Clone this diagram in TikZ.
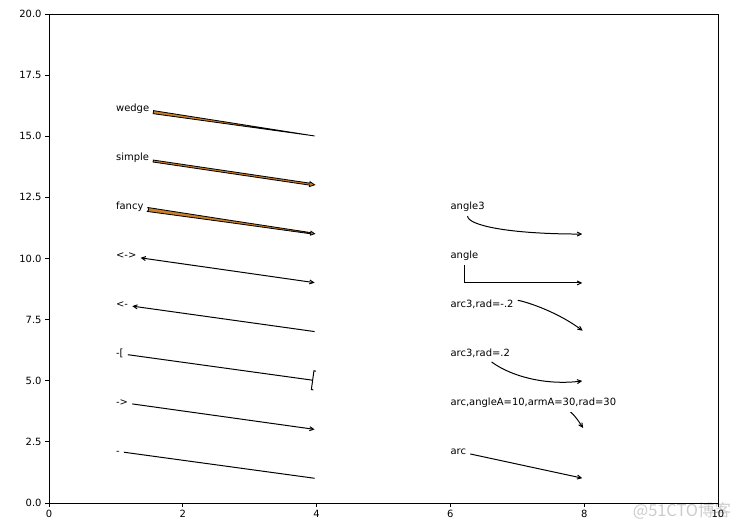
\documentclass[tikz,border=0pt]{standalone}
\usepackage{fontspec}
\setmainfont{DejaVu Sans}
\newfontfamily\cjkfont{Noto Sans CJK SC}
\usetikzlibrary{arrows.meta,calc,backgrounds}

\definecolor{arrowfill}{RGB}{204,128,40}
\definecolor{markgray}{RGB}{204,204,204}

\tikzset{
  lbl/.style={anchor=base west, xshift=-1.7pt, inner sep=1.7pt,
    text height=6.5pt, text depth=1.9pt, font=\fontsize{8.5}{10}\selectfont},
  conn/.style={line width=0.85pt, shorten <=1.7pt, shorten >=1.7pt},
  fat/.style={fill=arrowfill, draw=black, line width=0.7pt, line join=miter},
  tick/.style={line width=0.68pt},
  ticklbl/.style={font=\fontsize{8.5}{10}\selectfont, inner sep=0pt}
}

\begin{document}
\begin{tikzpicture}[x=2.007cm, y=0.7335cm, >={Straight Barb[length=3.4pt,width=3.4pt]}]
            \useasboundingbox (-0.7324,-1.063) rectangle (10.359,20.573);
            % Watermark
            \node[text=markgray, font=\cjkfont\fontsize{14}{14}\selectfont] (mark) at (9.46,-0.33) {@51CTO博客};
            % Axes
            \draw[tick] (0,0) rectangle (10,20);
            \foreach \x in {0,2,...,10}
              \draw[tick] (\x,0) -- ++(0,-3pt) node[ticklbl, anchor=north, yshift=-3pt] (xl\x) {\x};
            \foreach \y/\t [count=\i] in {0/0.0,2.5/2.5,5/5.0,7.5/7.5,10/10.0,12.5/12.5,15/15.0,17.5/17.5,20/20.0}
              \draw[tick] (0,\y) -- ++(-3pt,0) node[ticklbl, anchor=east, xshift=-3pt] (yl\i) {\t};
            % Arrow styles
            \node[lbl] (tdash) at (1,2) {-};
            \node[lbl] (tarrow) at (1,4) {->};
            \node[lbl] (tbracket) at (1,6) {-[};
            \node[lbl] (tleft) at (1,8) {<-};
            \node[lbl] (tboth) at (1,10) {<->};
            \node[lbl] (tfancy) at (1,12) {fancy};
            \node[lbl] (tsimple) at (1,14) {simple};
            \node[lbl] (twedge) at (1,16) {wedge};
            \coordinate (edash) at (4,1);
            \coordinate (earrow) at (4,3);
            \coordinate (ebracket) at (4,5);
            \coordinate (eleft) at (4,7);
            \coordinate (eboth) at (4,9);
            \coordinate (efancy) at (4,11);
            \coordinate (esimple) at (4,13);
            \coordinate (ewedge) at (4,15);
            \draw[conn] (tdash) -- (edash);
            \draw[conn,->] (tarrow) -- (earrow);
            \draw[conn,-{Bracket[reversed,width=17pt,length=1.7pt]}] (tbracket) -- (ebracket);
            \draw[conn,<-] (tleft) -- (eleft);
            \draw[conn,<->] (tboth) -- (eboth);
            % fancy
            \path (tfancy) -- (efancy) coordinate[pos=0] (f0) coordinate[pos=1] (f1);
            \coordinate (fs) at ($(f0)!1.7pt!(f1)$);
            \coordinate (fe) at ($(f1)!1.7pt!(f0)$);
            \coordinate (fh) at ($(fe)!3.4pt!(fs)$);
            \coordinate (fm) at ($(fs)!0.5!(fh)$);
            \filldraw[fat] ($(fs)!1pt!(fe)$) -- ($(fs)!1.7pt!90:(fe)$) -- ($(fm)!1pt!90:(fe)$)
              -- ($(fh)!0.5pt!90:(fe)$) -- ($(fh)!1.7pt!90:(fe)$) -- (fe)
              -- ($(fh)!1.7pt!-90:(fe)$) -- ($(fh)!0.5pt!-90:(fe)$)
              -- ($(fm)!1pt!-90:(fe)$) -- ($(fs)!1.7pt!-90:(fe)$) -- cycle;
            % simple
            \path (tsimple) -- (esimple) coordinate[pos=0] (s0) coordinate[pos=1] (s1);
            \coordinate (ss) at ($(s0)!1.7pt!(s1)$);
            \coordinate (se) at ($(s1)!1.7pt!(s0)$);
            \coordinate (sh) at ($(se)!4.25pt!(ss)$);
            \filldraw[fat] ($(ss)!0.85pt!90:(se)$) -- ($(sh)!0.85pt!90:(se)$) -- ($(sh)!2.1pt!90:(se)$)
              -- (se) -- ($(sh)!2.1pt!-90:(se)$) -- ($(sh)!0.85pt!-90:(se)$)
              -- ($(ss)!0.85pt!-90:(se)$) -- cycle;
            % wedge
            \path (twedge) -- (ewedge) coordinate[pos=0] (w0) coordinate[pos=1] (w1);
            \coordinate (ws) at ($(w0)!1.7pt!(w1)$);
            \coordinate (we) at ($(w1)!1.7pt!(w0)$);
            \filldraw[fat] ($(ws)!1.3pt!90:(we)$) -- (we) -- ($(ws)!1.3pt!-90:(we)$) -- cycle;
            % Connection styles
            \node[lbl] (angle3) at (6,12) {angle3};
            \node[lbl] (angle) at (6,10) {angle};
            \node[lbl] (arcneg) at (6,8) {arc3,rad=-.2};
            \node[lbl] (arcpos) at (6,6) {arc3,rad=.2};
            \node[lbl] (arcarm) at (6,4) {arc,angleA=10,armA=30,rad=30};
            \node[lbl] (arcplain) at (6,2) {arc};
            \coordinate (rangle3) at (8,11);
            \coordinate (rangle) at (8,9);
            \coordinate (rarcneg) at (8,7);
            \coordinate (rarcpos) at (8,5);
            \coordinate (rarcarm) at (8,3);
            \coordinate (rarcplain) at (8,1);
            % quadratic control points
            \coordinate (qangle3) at (angle3 |- rangle3);
            \coordinate (qarcneg) at ($(arcneg)!0.5!(rarcneg)!0.4!90:(rarcneg)$);
            \coordinate (qarcpos) at ($(arcpos)!0.5!(rarcpos)!0.4!-90:(rarcpos)$);
            \draw[conn,->] (angle3) .. controls ($(angle3)!2/3!(qangle3)$) and ($(rangle3)!2/3!(qangle3)$) .. (rangle3);
            \draw[conn,->] (angle) |- (rangle);
            \draw[conn,->] (arcneg) .. controls ($(arcneg)!2/3!(qarcneg)$) and ($(rarcneg)!2/3!(qarcneg)$) .. (rarcneg);
            \draw[conn,->] (arcpos) .. controls ($(arcpos)!2/3!(qarcpos)$) and ($(rarcpos)!2/3!(qarcpos)$) .. (rarcpos);
            \coordinate (armq) at ($(arcarm.center)+(10:25.5pt)$);
            \coordinate (armp) at ($(armq)!25.5pt!(rarcarm)$);
            \begin{scope}[on background layer]
              \draw[conn,->] (arcarm.center) .. controls ($(arcarm.center)!2/3!(armq)$) and ($(armp)!2/3!(armq)$) .. (armp) -- (rarcarm);
              \fill[white] ($(arcarm.south west)+(-1.7pt,-1.7pt)$) rectangle ($(arcarm.north east)+(1.7pt,1.7pt)$);
            \end{scope}
            \draw[conn,->] (arcplain) -- (rarcplain);
          \end{tikzpicture}
\end{document}
